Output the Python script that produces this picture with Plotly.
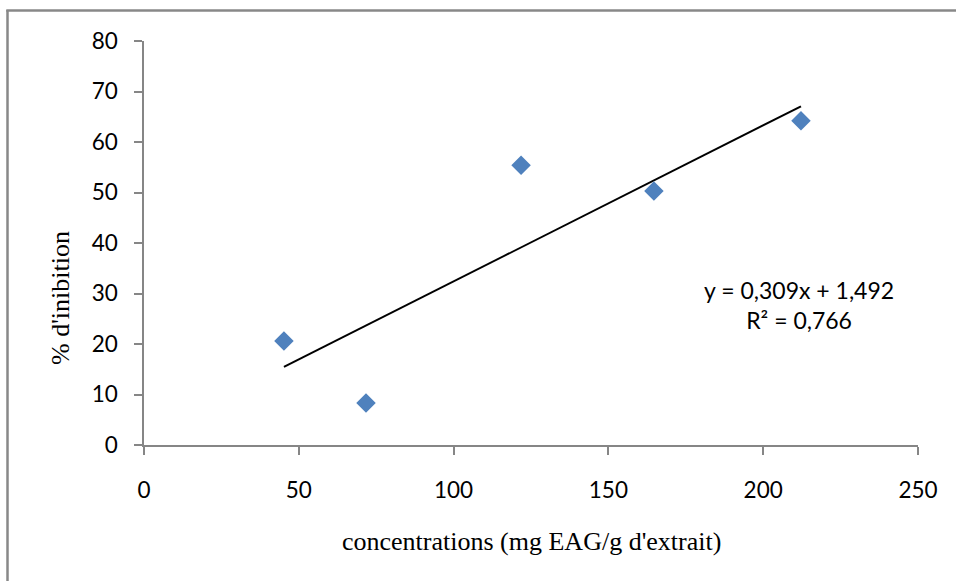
import plotly.graph_objects as go

# Measured samples
concentrations = [45.2, 71.7, 121.8, 164.7, 212.2]
inhibition = [20.6, 8.3, 55.4, 50.3, 64.2]

# Linear trendline coefficients (as reported on the chart)
slope = 0.309
intercept = 1.492
r_squared = 0.766

x_ticks = [0, 50, 100, 150, 200, 250]
y_ticks = [0, 10, 20, 30, 40, 50, 60, 70, 80]

trend_x = [min(concentrations), max(concentrations)]
trend_y = [slope * v + intercept for v in trend_x]

def fr(v, d):
    return f"{v:.{d}f}".replace(".", ",")

eq_text = f"y = {fr(slope, 3)}x + {fr(intercept, 3)}<br>R² = {fr(r_squared, 3)}"

fig = go.Figure()
fig.add_trace(go.Scatter(
    x=trend_x, y=trend_y, mode="lines",
    line=dict(color="black", width=2), showlegend=False, hoverinfo="skip"))
fig.add_trace(go.Scatter(
    x=concentrations, y=inhibition, mode="markers",
    marker=dict(symbol="diamond", size=15, color="#4F81BD",
                line=dict(width=0)),
    showlegend=False))

axis_font = dict(family="Lato, Carlito, sans-serif", size=22.5, color="black")
gray = "#868686"

fig.update_xaxes(range=[0, 250], tickvals=x_ticks, showline=True, linecolor=gray,
                 linewidth=1.5, ticks="outside", ticklen=8, tickcolor=gray,
                 tickwidth=1.5, showgrid=False, zeroline=False,
                 tickfont=axis_font, ticklabelstandoff=16)
fig.update_yaxes(range=[0, 80], tickvals=y_ticks, showline=True, linecolor=gray,
                 linewidth=1.5, ticks="outside", ticklen=8, tickcolor=gray,
                 tickwidth=1.5, showgrid=False, zeroline=False,
                 tickfont=axis_font, ticklabelstandoff=12)

W, H = 956, 581
L, R, T, B = 144, 38, 41, 136
pw, ph = W - L - R, H - T - B

def px_x(p):
    return (p - L) / pw

def px_y(p):
    return 1 - (p - T) / ph

serif = dict(family="Liberation Serif, Times New Roman, serif", size=26, color="black")
centered = dict(xref="paper", yref="paper", showarrow=False,
                xanchor="center", yanchor="middle")

fig.update_layout(
    width=W, height=H,
    margin=dict(l=L, r=R, t=T, b=B),
    plot_bgcolor="white", paper_bgcolor="white",
    shapes=[
        dict(type="line", xref="paper", yref="paper",
             x0=px_x(7.5), x1=px_x(7.5), y0=px_y(10), y1=px_y(H + 5),
             line=dict(color="#888888", width=2.5)),
        dict(type="line", xref="paper", yref="paper",
             x0=px_x(6.3), x1=px_x(W + 5), y0=px_y(10.5), y1=px_y(10.5),
             line=dict(color="#888888", width=2.5)),
    ],
    annotations=[
        dict(text="concentrations (mg EAG/g d'extrait)",
             x=px_x(531), y=px_y(541), font=serif, **centered),
        dict(text="% d'inibition", x=px_x(60), y=px_y(298), textangle=-90,
             font=serif, **centered),
        dict(text=eq_text, x=px_x(799), y=px_y(305), align="center",
             font=dict(family="Lato, Carlito, sans-serif", size=23, color="black"),
             **centered),
    ],
)

fig.write_html("out.html")
